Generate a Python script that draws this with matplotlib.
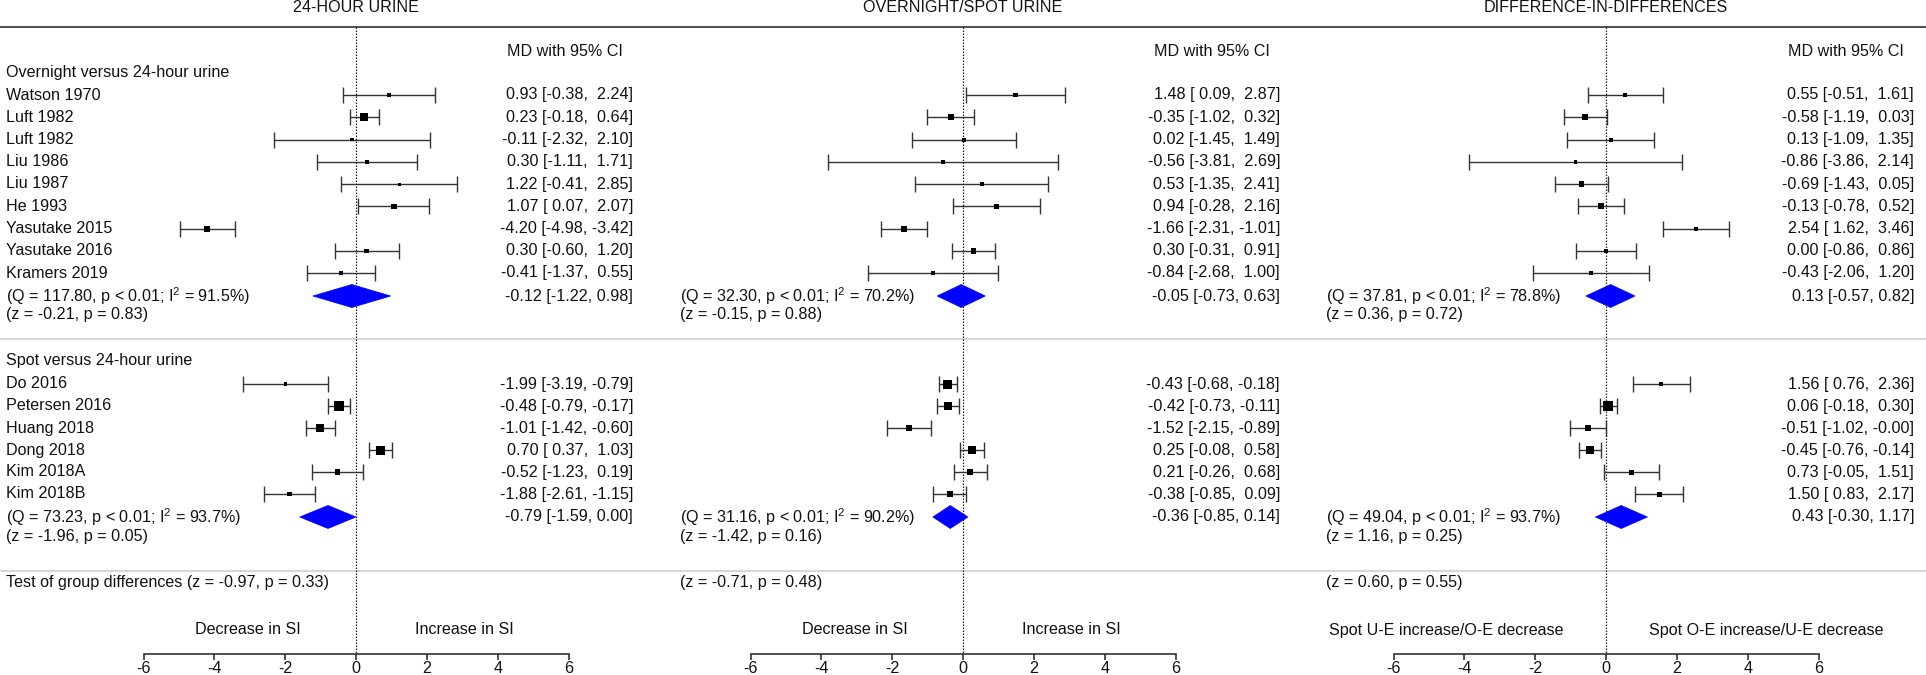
import matplotlib
matplotlib.use("Agg")
import matplotlib.pyplot as plt
from matplotlib.patches import Polygon
import numpy as np

plt.rcParams['font.family'] = ['Liberation Sans', 'DejaVu Sans']
plt.rcParams['mathtext.fontset'] = 'custom'
plt.rcParams['mathtext.rm'] = 'Liberation Sans'
plt.rcParams['mathtext.it'] = 'Liberation Sans:italic'

# ---------------- data ----------------
panel_titles = ["24-HOUR URINE", "OVERNIGHT/SPOT URINE", "DIFFERENCE-IN-DIFFERENCES"]
group_labels = ["Overnight versus 24-hour urine", "Spot versus 24-hour urine"]
studies_g1 = ["Watson 1970", "Luft 1982", "Luft 1982", "Liu 1986", "Liu 1987",
              "He 1993", "Yasutake 2015", "Yasutake 2016", "Kramers 2019"]
studies_g2 = ["Do 2016", "Petersen 2016", "Huang 2018", "Dong 2018", "Kim 2018A", "Kim 2018B"]

# 24-hour urine
p1_g1_md = [0.93, 0.23, -0.11, 0.30, 1.22, 1.07, -4.20, 0.30, -0.41]
p1_g1_lo = [-0.38, -0.18, -2.32, -1.11, -0.41, 0.07, -4.98, -0.60, -1.37]
p1_g1_hi = [2.24, 0.64, 2.10, 1.71, 2.85, 2.07, -3.42, 1.20, 0.55]
p1_g1_w = [4.5, 8, 3.5, 4, 3, 5.5, 6, 4.5, 4]
p1_g1_pool = [-0.12, -1.22, 0.98]
p1_g2_md = [-1.99, -0.48, -1.01, 0.70, -0.52, -1.88]
p1_g2_lo = [-3.19, -0.79, -1.42, 0.37, -1.23, -2.61]
p1_g2_hi = [-0.79, -0.17, -0.60, 1.03, 0.19, -1.15]
p1_g2_w = [3.5, 10, 8, 9, 5.5, 4.5]
p1_g2_pool = [-0.79, -1.59, 0.00]
p1_g1_stats = ["(Q = 117.80, p < 0.01; I$^{2}$ = 91.5%)", "(z = -0.21, p = 0.83)"]
p1_g2_stats = ["(Q = 73.23, p < 0.01; I$^{2}$ = 93.7%)", "(z = -1.96, p = 0.05)"]
p1_test = "Test of group differences (z = -0.97, p = 0.33)"

# overnight/spot urine
p2_g1_md = [1.48, -0.35, 0.02, -0.56, 0.53, 0.94, -1.66, 0.30, -0.84]
p2_g1_lo = [0.09, -1.02, -1.45, -3.81, -1.35, -0.28, -2.31, -0.31, -2.68]
p2_g1_hi = [2.87, 0.32, 1.49, 2.69, 2.41, 2.16, -1.01, 0.91, 1.00]
p2_g1_w = [4.5, 6, 4, 3.5, 4, 4.5, 6, 5.5, 4]
p2_g1_pool = [-0.05, -0.73, 0.63]
p2_g2_md = [-0.43, -0.42, -1.52, 0.25, 0.21, -0.38]
p2_g2_lo = [-0.68, -0.73, -2.15, -0.08, -0.26, -0.85]
p2_g2_hi = [-0.18, -0.11, -0.89, 0.58, 0.68, 0.09]
p2_g2_w = [9, 8, 6, 8.5, 6, 6]
p2_g2_pool = [-0.36, -0.85, 0.14]
p2_g1_stats = ["(Q = 32.30, p < 0.01; I$^{2}$ = 70.2%)", "(z = -0.15, p = 0.88)"]
p2_g2_stats = ["(Q = 31.16, p < 0.01; I$^{2}$ = 90.2%)", "(z = -1.42, p = 0.16)"]
p2_test = "(z = -0.71, p = 0.48)"

# difference-in-differences
p3_g1_md = [0.55, -0.58, 0.13, -0.86, -0.69, -0.13, 2.54, 0.00, -0.43]
p3_g1_lo = [-0.51, -1.19, -1.09, -3.86, -1.43, -0.78, 1.62, -0.86, -2.06]
p3_g1_hi = [1.61, 0.03, 1.35, 2.14, 0.05, 0.52, 3.46, 0.86, 1.20]
p3_g1_w = [4, 6, 4, 3.5, 5.5, 6, 4, 3.5, 3.5]
p3_g1_pool = [0.13, -0.57, 0.82]
p3_g2_md = [1.56, 0.06, -0.51, -0.45, 0.73, 1.50]
p3_g2_lo = [0.76, -0.18, -1.02, -0.76, -0.05, 0.83]
p3_g2_hi = [2.36, 0.30, -0.00, -0.14, 1.51, 2.17]
p3_g2_w = [4, 9.5, 5.5, 7.5, 5, 5]
p3_g2_pool = [0.43, -0.30, 1.17]
p3_g1_stats = ["(Q = 37.81, p < 0.01; I$^{2}$ = 78.8%)", "(z = 0.36, p = 0.72)"]
p3_g2_stats = ["(Q = 49.04, p < 0.01; I$^{2}$ = 93.7%)", "(z = 1.16, p = 0.25)"]
p3_test = "(z = 0.60, p = 0.55)"

dir_labels = [("Decrease in SI", "Increase in SI"),
              ("Decrease in SI", "Increase in SI"),
              ("Spot U-E increase/O-E decrease", "Spot O-E increase/U-E decrease")]
col_header = "MD with 95% CI"
xticks = [-6, -4, -2, 0, 2, 4, 6]

panels = [
    dict(g1=(p1_g1_md, p1_g1_lo, p1_g1_hi, p1_g1_w), g1p=p1_g1_pool, g1s=p1_g1_stats,
         g2=(p1_g2_md, p1_g2_lo, p1_g2_hi, p1_g2_w), g2p=p1_g2_pool, g2s=p1_g2_stats, test=p1_test),
    dict(g1=(p2_g1_md, p2_g1_lo, p2_g1_hi, p2_g1_w), g1p=p2_g1_pool, g1s=p2_g1_stats,
         g2=(p2_g2_md, p2_g2_lo, p2_g2_hi, p2_g2_w), g2p=p2_g2_pool, g2s=p2_g2_stats, test=p2_test),
    dict(g1=(p3_g1_md, p3_g1_lo, p3_g1_hi, p3_g1_w), g1p=p3_g1_pool, g1s=p3_g1_stats,
         g2=(p3_g2_md, p3_g2_lo, p3_g2_hi, p3_g2_w), g2p=p3_g2_pool, g2s=p3_g2_stats, test=p3_test),
]

# ---------------- layout (pixels) ----------------
W, H = 1926, 675
FS = 11.6
TXT = '#111111'
zeros_px = [356, 963, 1606]
bounds_px = [(0, 640), (640, 1283), (1283, 1926)]
val_right_px = [633, 1280, 1914]
stats_x_px = [6, 680, 1326]
ppu = 425 / 12.0

y_title = 8
y_topline = 27
y_header = 51
y_g1_label = 73
g1_y = 95 + 22.25 * np.arange(len(studies_g1))
y_g1_q, y_g1_z = 296, 314
y_sep1 = 339
y_g2_label = 361
g2_y = 384 + 22.0 * np.arange(len(studies_g2))
y_g2_q, y_g2_z = 517, 537
y_sep2 = 571
y_test = 583
y_dir = 630
y_axis = 654
cap = 8
dia_h = 11.5


def fmt_study(m, lo, hi):
    return f"{m:.2f} [{lo:5.2f}, {hi:5.2f}]"


def fmt_pool(m, lo, hi):
    return f"{m:.2f} [{lo:.2f}, {hi:.2f}]"


fig = plt.figure(figsize=(W / 100, H / 100), dpi=100)
bg = fig.add_axes([0, 0, 1, 1])
bg.set_xlim(0, W)
bg.set_ylim(H, 0)
bg.axis('off')

bg.hlines(y_topline, 0, W, color='#4d4d4d', lw=1.4)
bg.hlines([y_sep1, y_sep2], 0, W, color='#cfcfcf', lw=1.2)

# study labels (left)
bg.text(6, y_g1_label, group_labels[0], fontsize=FS, color=TXT, va='center', ha='left')
bg.text(6, y_g2_label, group_labels[1], fontsize=FS, color=TXT, va='center', ha='left')
for yy, nm in zip(g1_y, studies_g1):
    bg.text(6, yy, nm, fontsize=FS, color=TXT, va='center', ha='left')
for yy, nm in zip(g2_y, studies_g2):
    bg.text(6, yy, nm, fontsize=FS, color=TXT, va='center', ha='left')

for k, P in enumerate(panels):
    a, b = bounds_px[k]
    z0 = zeros_px[k]
    ax = fig.add_axes([a / W, 0, (b - a) / W, 1])
    ax.set_xlim((a - z0) / ppu, (b - z0) / ppu)
    ax.set_ylim(H, 0)
    ax.patch.set_alpha(0)
    for sp in ['top', 'left', 'right']:
        ax.spines[sp].set_visible(False)
    ax.spines['bottom'].set_position(('data', y_axis))
    ax.spines['bottom'].set_bounds(-6, 6)
    ax.spines['bottom'].set_color('#222222')
    ax.spines['bottom'].set_linewidth(1.1)
    ax.set_yticks([])
    ax.set_xticks(xticks)
    ax.set_xticklabels([str(t) for t in xticks])
    ax.tick_params(axis='x', direction='out', length=4, width=1.1, pad=1.0,
                   labelsize=FS, colors='#222222', labelcolor=TXT)

    # title
    ax.text(0, y_title, panel_titles[k], fontsize=FS, color=TXT, ha='center', va='center')
    # zero line
    ax.vlines(0, y_topline, y_axis, colors='#222222', linestyles=(0, (1.2, 1.2)), lw=0.9, zorder=1)

    vr = val_right_px[k]
    bg.text(vr - 68, y_header, col_header, fontsize=FS, color=TXT, ha='center', va='center')

    for (md, lo, hi, w), ys, pool, yq, yz, stats in [
            (P['g1'], g1_y, P['g1p'], y_g1_q, y_g1_z, P['g1s']),
            (P['g2'], g2_y, P['g2p'], y_g2_q, y_g2_z, P['g2s'])]:
        md = np.array(md); lo = np.array(lo); hi = np.array(hi); w = np.array(w)
        ax.hlines(ys, lo, hi, colors='#333333', lw=1.0, zorder=2)
        ax.vlines(lo, ys - cap, ys + cap, colors='#333333', lw=1.0, zorder=2)
        ax.vlines(hi, ys - cap, ys + cap, colors='#333333', lw=1.0, zorder=2)
        ax.scatter(md, ys, marker='s', s=(0.72 * w) ** 2, color='black',
                   linewidths=0, zorder=3)
        for yy, m_, l_, h_ in zip(ys, md, lo, hi):
            bg.text(vr, yy, fmt_study(m_, l_, h_), fontsize=FS, color=TXT,
                    ha='right', va='center')
        pm, pl, ph = pool
        ax.add_patch(Polygon([[pl, yq], [pm, yq - dia_h], [ph, yq], [pm, yq + dia_h]],
                             closed=True, facecolor='#0000ff', edgecolor='#0000ff',
                             lw=0.5, zorder=2))
        bg.text(vr, yq, fmt_pool(pm, pl, ph), fontsize=FS, color=TXT, ha='right', va='center')
        bg.text(stats_x_px[k], yq, stats[0], fontsize=FS, color=TXT, ha='left', va='center')
        bg.text(stats_x_px[k], yz, stats[1], fontsize=FS, color=TXT, ha='left', va='center')

    bg.text(stats_x_px[k], y_test, P['test'], fontsize=FS, color=TXT, ha='left', va='center')

    off = 3.05 if k < 2 else 4.52
    ax.text(-off, y_dir, dir_labels[k][0], fontsize=FS, color=TXT, ha='center', va='center')
    ax.text(off, y_dir, dir_labels[k][1], fontsize=FS, color=TXT, ha='center', va='center')

fig.savefig("out.png", dpi=100)
